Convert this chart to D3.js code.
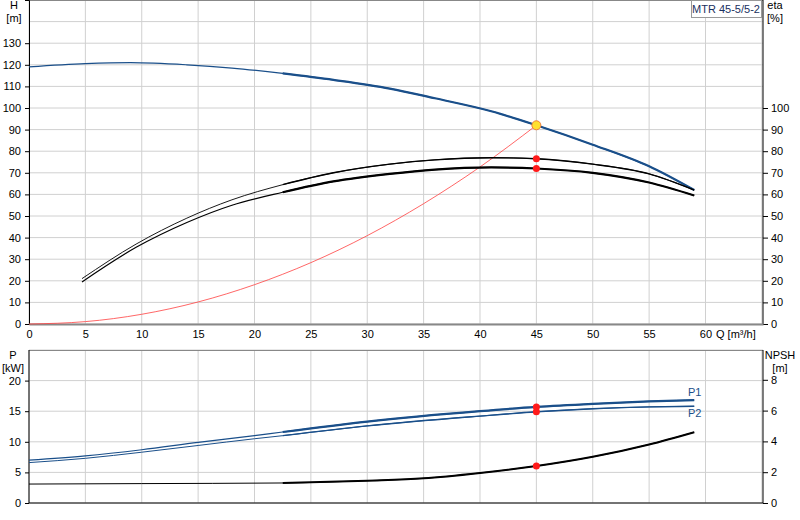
<!DOCTYPE html>
<html><head><meta charset="utf-8">
<script src="https://cdn.jsdelivr.net/npm/d3@7"></script>
<style>body{margin:0;background:#fff}text{font-family:"Liberation Sans",Arial,sans-serif;font-size:11px;fill:#000}</style>
</head><body><div id="chart"></div>
<script>
// pump curves
var qH = [0, 5, 9, 14, 18, 22.5, 27, 32, 36, 41, 45, 50, 55, 59];
var hVals = [119, 120.5, 121, 120, 118.5, 116, 113, 109, 104.5, 98.5, 92, 83, 73, 62];
var qEta = [4.7, 9.5, 14, 18, 22.5, 27, 32, 36, 41, 45, 50, 55, 59];
var eta1 = [21, 37, 49, 57.5, 64.5, 70, 74, 76, 77, 76.5, 74, 69.5, 62];
var eta2 = [19.5, 35.5, 47, 55, 61, 66, 69.5, 71.5, 72.5, 72, 70, 65.5, 59.5];
var qSys = [0, 5, 10, 15, 20, 25, 30, 35, 40, 45];
var sysVals = [0, 1.1, 4.5, 10.2, 18.2, 28.4, 40.9, 55.7, 72.7, 92];
var qP = [0, 5, 10, 15, 20, 22.5, 30, 40, 45, 50, 55, 59];
var p1 = [7, 7.7, 8.7, 9.9, 11, 11.6, 13.3, 15, 15.7, 16.2, 16.6, 16.8];
var p2 = [6.6, 7.3, 8.3, 9.4, 10.5, 11, 12.6, 14.2, 14.9, 15.4, 15.7, 15.8];
var qN = [0, 10, 22.5, 30, 35, 40, 45, 50, 55, 59];
var npsh = [1.23, 1.26, 1.3, 1.45, 1.6, 1.95, 2.4, 3.0, 3.8, 4.6];
var duty = {q: 45, h: 92, eta1: 76.5, eta2: 72, p1: 15.7, p2: 14.9, npsh: 2.4};
var qTicks = d3.range(0, 61, 5);
var hTicks = d3.range(0, 131, 10);
var etaTicks = d3.range(0, 101, 10);
var pTicks = d3.range(0, 21, 5);
var nTicks = d3.range(0, 9, 2);

var svg = d3.select("#chart").append("svg").attr("width", 800).attr("height", 520);
var x = d3.scaleLinear().domain([0, 65.1]).range([29, 763]);
var yH = d3.scaleLinear().domain([0, 150]).range([324, 0]);
var yP = d3.scaleLinear().domain([0, 25]).range([503, 350]);
var yN = d3.scaleLinear().domain([0, 10]).range([503, 349]);
var blue = "#1a4f8a";

function grid(y0, y1, yScale, yt) {
    svg.selectAll(null).data(qTicks.concat([65])).enter().append("line")
        .attr("x1", x).attr("x2", x).attr("y1", y0).attr("y2", y1).attr("stroke", "#d0d0d0");
    svg.selectAll(null).data(yt).enter().append("line")
        .attr("x1", 29).attr("x2", 763).attr("y1", yScale).attr("y2", yScale).attr("stroke", "#d0d0d0");
    svg.append("line").attr("x1", 29).attr("x2", 763).attr("y1", y0 + 0.5).attr("y2", y0 + 0.5).attr("stroke", "#888");
}
grid(0, 324, yH, hTicks.concat([140]));
grid(350, 503, yP, pTicks.concat([25]));

function axis(gen, tx, ty) {
    var g = svg.append("g").attr("transform", "translate(" + tx + "," + ty + ")").call(gen);
    g.selectAll("text").style("font-size", "11px");
    return g;
}
axis(d3.axisLeft(yH).tickValues(hTicks).tickSize(4).tickPadding(4), 29, 0);
axis(d3.axisRight(yH).tickValues(etaTicks).tickSize(5), 763, 0).select(".domain").attr("d", "M0,0V324");
axis(d3.axisBottom(x).tickValues(qTicks).tickSize(0).tickPadding(6), 0, 324).select(".domain").attr("stroke", "#888").attr("stroke-width", 2);
axis(d3.axisLeft(yP).tickValues(pTicks).tickSize(4).tickPadding(4), 29, 0).select(".domain").attr("d", "M0,350V503");
axis(d3.axisRight(yN).tickValues(nTicks).tickSize(5), 763, 0).select(".domain").attr("d", "M0,350V503");
svg.append("line").attr("x1", 29).attr("x2", 763).attr("y1", 503).attr("y2", 503).attr("stroke", "#000");

function curve(qs, vs, yScale, color, w) {
    svg.append("path").datum(qs.map(function(q, i) { return [q, vs[i]]; }))
        .attr("d", d3.line().curve(d3.curveMonotoneX).x(function(d) { return x(d[0]); }).y(function(d) { return yScale(d[1]); }))
        .attr("fill", "none").attr("stroke", color).attr("stroke-width", w);
}
function sub(qs, vs, from) {
    var a = [], b = [];
    qs.forEach(function(q, i) { if (q >= from) { a.push(q); b.push(vs[i]); } });
    return [a, b];
}
function twoPart(qs, vs, yScale, color, w1, w2) {
    curve(qs, vs, yScale, color, w1);
    var s = sub(qs, vs, 22.5);
    curve(s[0], s[1], yScale, color, w2);
}
curve(qSys, sysVals, yH, "#ff4040", 0.8);
twoPart(qH, hVals, yH, blue, 1.2, 2.2);
twoPart(qEta, eta1, yH, "#000", 0.9, 1.4);
twoPart(qEta, eta2, yH, "#000", 1.2, 2.2);
twoPart(qP, p1, yP, blue, 1.2, 2.2);
twoPart(qP, p2, yP, blue, 1, 1.4);
twoPart(qN, npsh, yN, "#000", 1, 2);

[[yH, duty.eta1], [yH, duty.eta2], [yP, duty.p1], [yP, duty.p2], [yN, duty.npsh]].forEach(function(d) {
    svg.append("circle").attr("cx", x(duty.q)).attr("cy", d[0](d[1])).attr("r", 3.5).attr("fill", "#ff1a1a");
});
svg.append("circle").attr("cx", x(duty.q)).attr("cy", yH(duty.h)).attr("r", 4.5)
    .attr("fill", "#ffe030").attr("stroke", "#f08040");

function label(t, tx, ty, anchor, color) {
    svg.append("text").attr("x", tx).attr("y", ty).attr("text-anchor", anchor || "middle").style("fill", color || "#000").text(t);
}
label("H", 14, 9); label("[m]", 14, 22);
label("eta", 775, 9); label("[%]", 775, 22);
label("P", 13, 359); label("[kW]", 13, 372);
label("NPSH", 780, 359); label("[m]", 780, 372);
label("Q [m³/h]", 716, 338, "start");
label("P1", 688, 396, "start", blue);
label("P2", 688, 417, "start", blue);
svg.append("rect").attr("x", 691.5).attr("y", 0.5).attr("width", 70).attr("height", 17).attr("fill", "#fff").attr("stroke", "#999");
label("MTR 45-5/5-2", 726, 13, "middle", "#1a3060");
</script></body></html>
